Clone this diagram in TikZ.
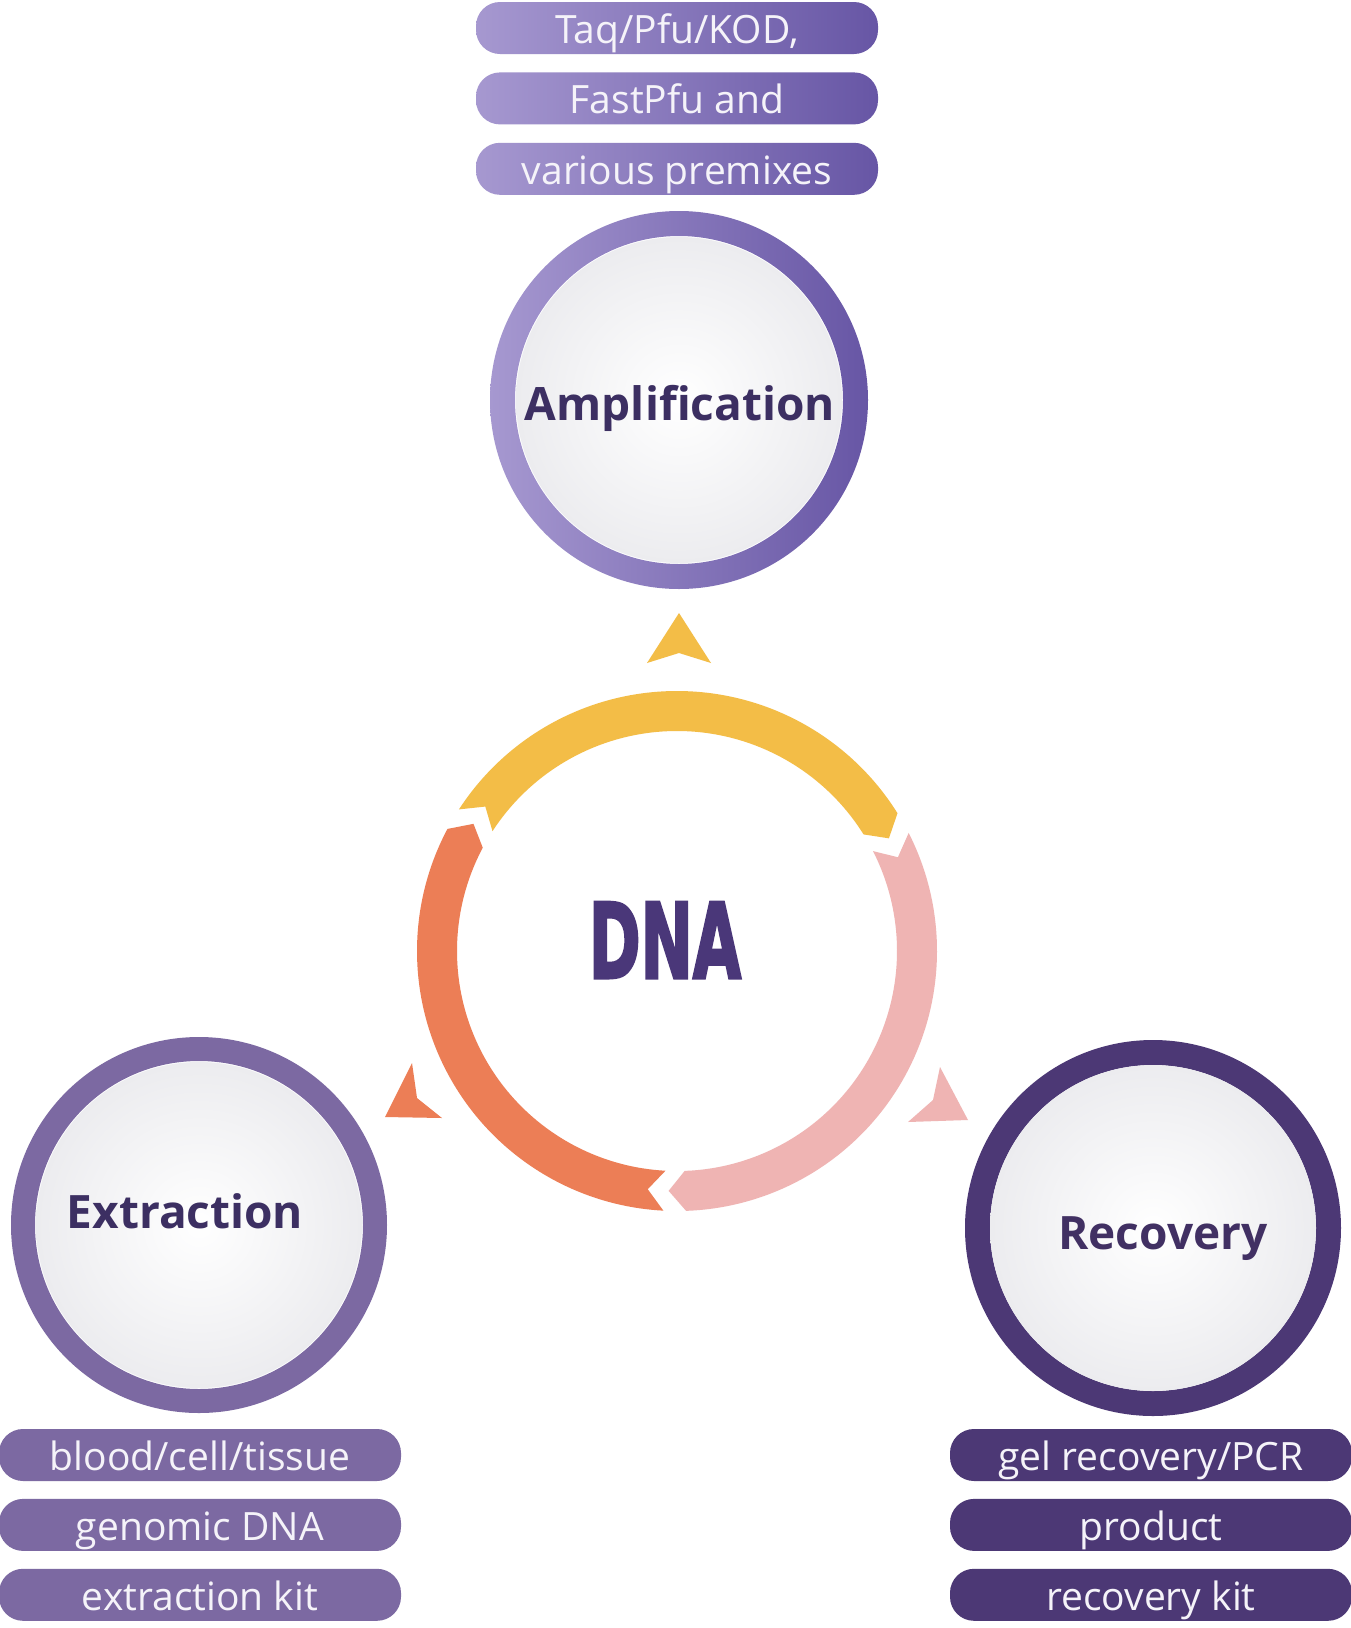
\documentclass[tikz,border=0pt]{standalone}
\usepackage{fontspec}
\setmainfont{Open Sans}
\newfontfamily\dnafont{DejaVu Sans}
\usetikzlibrary{positioning}

\definecolor{amplight}{HTML}{A698D0}
\definecolor{ampdark}{HTML}{6756A5}
\definecolor{extpurple}{HTML}{7C69A2}
\definecolor{recpurple}{HTML}{4C3875}
\definecolor{labelink}{HTML}{3C2F62}
\definecolor{dnaink}{HTML}{4A3779}
\definecolor{ringyellow}{HTML}{F3BD47}
\definecolor{ringorange}{HTML}{EC7E56}
\definecolor{ringpink}{HTML}{EFB4B3}
\definecolor{innergray}{HTML}{ECECEF}
\definecolor{pilltext}{HTML}{F5F3F9}

\tikzset{
  pill/.style={rounded corners=24pt, minimum width=402pt, minimum height=52pt,
    inner sep=0pt, text=pilltext, font=\fontsize{39}{41}\selectfont,
    text height=31pt, text depth=0pt},
  stagetext/.style={text=labelink, inner sep=0pt, anchor=base,
    font=\bfseries\fontsize{46}{48}\selectfont}
}

\begin{document}
\begin{tikzpicture}[x=1pt,y=-1pt]
  \useasboundingbox (0,0) rectangle (1351,1628);
  \fill[white] (0,0) rectangle (1351,1628);

  \coordinate (ampc) at (679,400);
  \coordinate (extc) at (199,1225);
  \coordinate (recc) at (1153,1228);

  % outer circles
  \shade[left color=amplight, right color=ampdark, even odd rule]
    (ampc) circle[radius=189] (ampc) circle[radius=164];
  \fill[extpurple, even odd rule] (extc) circle[radius=188] (extc) circle[radius=164];
  \fill[recpurple, even odd rule] (recc) circle[radius=188] (recc) circle[radius=163];
  \foreach \c in {ampc,extc,recc}
    \shade[inner color=white, outer color=innergray] (\c) circle[radius=163];

  \node[stagetext] (amp) at (680,420) {Amplification};
  \node[stagetext] (ext) at (185,1228) {Extraction};
  \node[stagetext, text=recpurple!85!black] (rec) at (1163,1249) {Recovery};

  % pill stacks
  \node[pill, left color=amplight, right color=ampdark] (ampA) at (677,28) {Taq/Pfu/KOD,};
  \node[pill, left color=amplight, right color=ampdark, below=18pt of ampA] (ampB) {FastPfu and};
  \node[pill, left color=amplight, right color=ampdark, below=18pt of ampB] (ampC) {various premixes};

  \node[pill, fill=extpurple] (extA) at (200,1455) {blood/cell/tissue};
  \node[pill, fill=extpurple, below=17.5pt of extA] (extB) {genomic DNA};
  \node[pill, fill=extpurple, below=17.5pt of extB] (extC) {extraction kit};

  \node[pill, fill=recpurple] (recA) at (1151,1455) {gel recovery/PCR};
  \node[pill, fill=recpurple, below=17.5pt of recA] (recB) {product};
  \node[pill, fill=recpurple, below=17.5pt of recB] (recC) {recovery kit};

  % central cycle
  \def\ringout{260}
  \def\ringin{220}
  \def\ringmid{240}
  \begin{scope}[shift={(677,951)}]
    \foreach \ga/\gb/\col in {212/332/ringyellow, 332/452/ringpink, 92/212/ringorange}{
      \fill[\col] ({\ga+1}:\ringout) arc[start angle=\ga+1, end angle=\gb-4, radius=\ringout]
        -- (\gb:\ringmid) -- ({\gb-4}:\ringin)
        arc[start angle=\gb-4, end angle=\ga+1, radius=\ringin]
        -- ({\ga+5}:\ringmid) -- cycle;
    }
  \end{scope}
  \node[text=dnaink, inner sep=0pt, anchor=base,
    font=\dnafont\bfseries\fontsize{104}{110}\selectfont\addfontfeature{FakeBold=3}] (dna) at (665,978)
    {\scalebox{0.6}[1]{DNA}};

  % small arrowheads
  \fill[ringyellow] (679,613) -- (711,663) -- (679,653) -- (647,663) -- cycle;
  \fill[ringorange] (412,1063) -- (417,1098) -- (442,1118) -- (385,1117) -- cycle;
  \fill[ringpink] (940,1067) -- (968,1120) -- (908,1122) -- (933,1100) -- cycle;
\end{tikzpicture}
\end{document}
